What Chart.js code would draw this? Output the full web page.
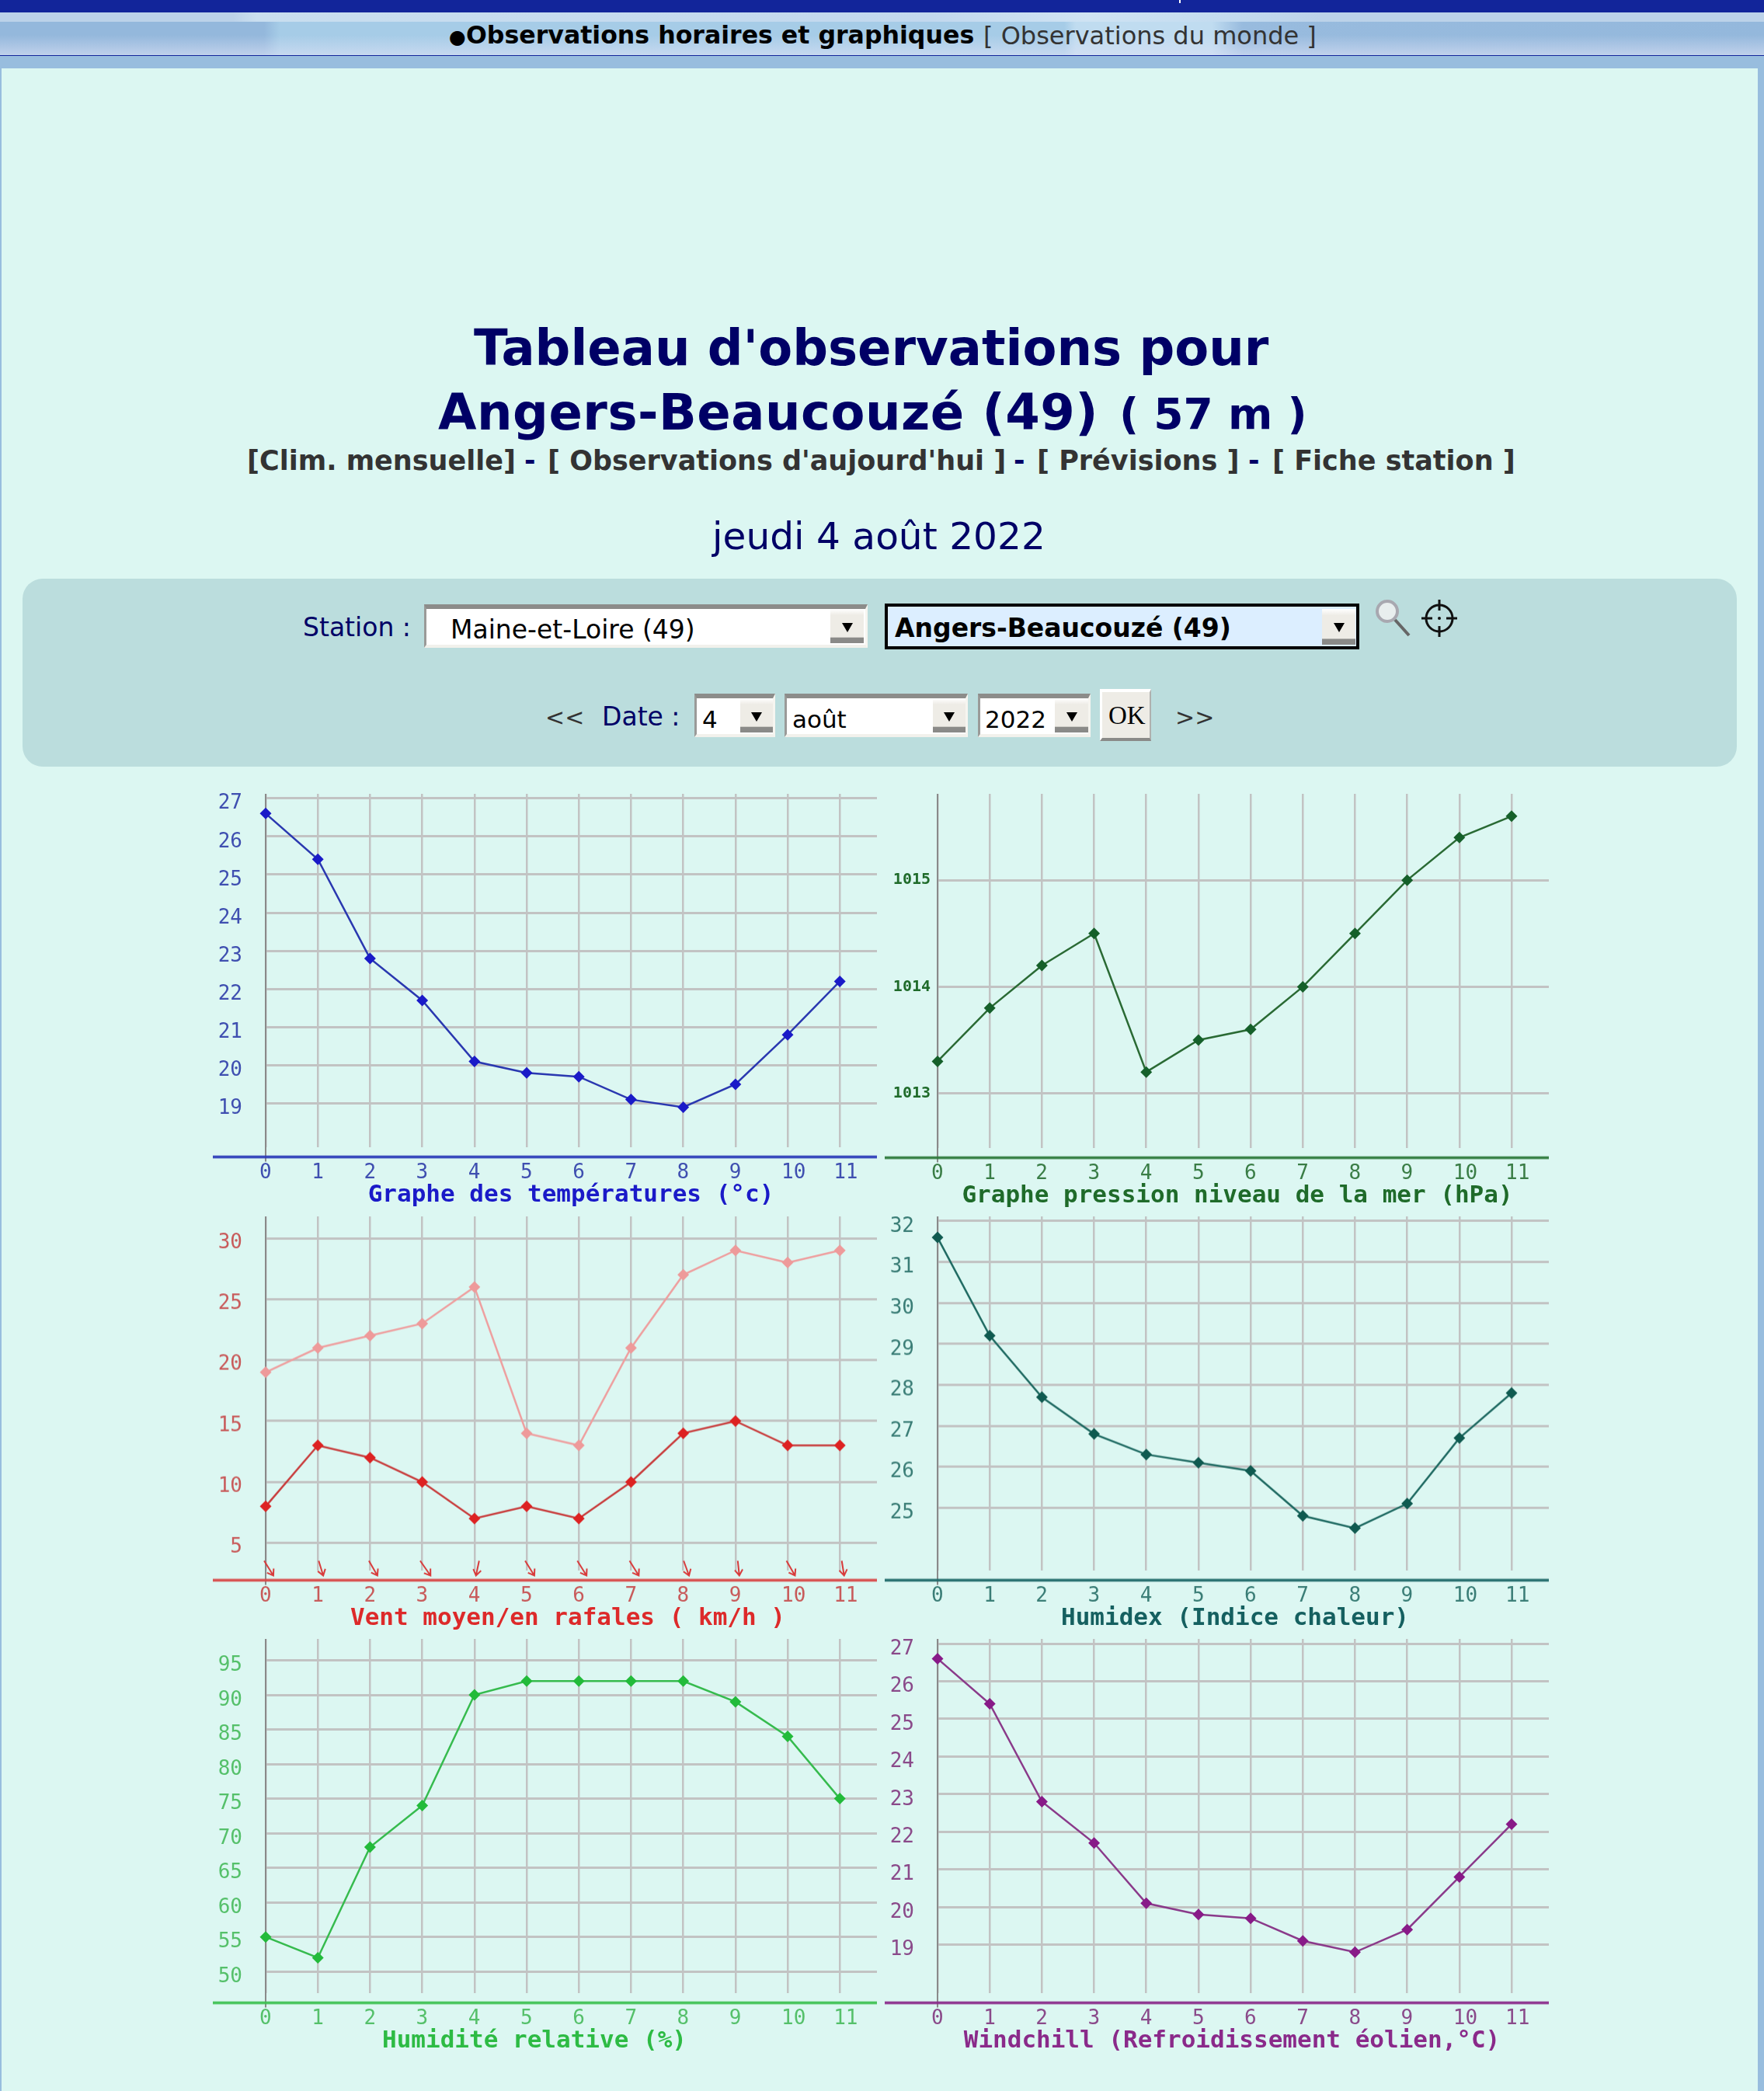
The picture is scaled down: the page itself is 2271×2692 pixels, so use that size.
<!DOCTYPE html>
<html lang="fr"><head><meta charset="utf-8"><title>Tableau d'observations</title>
<script src="https://cdn.jsdelivr.net/npm/chart.js@4"></script>
<style>
html,body{margin:0;padding:0;width:2271px;height:2692px;overflow:hidden;background:#dcf7f2;font-family:"DejaVu Sans",sans-serif}
#page{position:relative;width:2271px;height:2692px;overflow:hidden}
.b{position:absolute}
.t{position:absolute;white-space:nowrap;line-height:1;z-index:3}
.sel{position:absolute;box-sizing:border-box;background:#fff;border-top:6px solid #8c8c8a;border-left:3px solid #9a9a98;border-bottom:4px solid #f2f1ec;border-right:3px solid #f6f5f0}
.btn{position:absolute;background:linear-gradient(#fff 0,#eeece6 18%,#eeece6 82%,#8a8a88 85%);}
.btn:after{content:"";position:absolute;left:50%;top:40%;margin-left:-7px;border:7px solid transparent;border-top:12px solid #000;border-bottom:0}
canvas{position:absolute;display:block}
</style></head><body><div id="page">
<div class="b" style="left:0;top:0;width:2271px;height:16px;background:#12259a"></div>
<div class="b" style="left:1518px;top:0;width:2px;height:4px;background:#fff"></div>
<div class="b" style="left:0;top:16px;width:2271px;height:12px;background:linear-gradient(90deg,#bcd2e9 0,#bcd2e9 300px,#c9deef 330px,#c2d8ee 1200px,#cfe3f3 1400px,#c4dcf0 1560px,#bcd2e9 1700px)"></div>
<div class="b" style="left:0;top:28px;width:2271px;height:43px;background:linear-gradient(180deg,rgba(255,255,255,0) 40%,rgba(220,225,245,.6) 100%),linear-gradient(90deg,#94b8dc 0,#94b8dc 340px,#a6cce7 360px,#a6cce7 1370px,#c0dcf0 1385px,#c0dcf0 1560px,#98bbde 1600px,#94b8dc 2271px)"></div>
<div class="b" style="left:0;top:71px;width:2271px;height:1px;background:#12259a"></div>
<div class="b" style="left:0;top:72px;width:2271px;height:16px;background:#98bdde"></div>
<div class="b" style="left:0;top:88px;width:2px;height:2604px;background:#98bdde"></div>
<div class="b" style="left:2263px;top:88px;width:8px;height:2604px;background:#98bdde"></div>
<div class="b" style="left:29px;top:745px;width:2207px;height:242px;background:#bbdddd;border-radius:26px"></div>
<div id="texts"></div>
<div class="sel" style="left:546px;top:778px;width:571px;height:56px"></div>
<div class="btn" style="left:1069px;top:784px;width:43px;height:44px"></div>
<div class="b" style="left:1139px;top:777px;width:611px;height:59px;box-sizing:border-box;background:#dceeff;border:4px solid #000"></div>
<div class="btn" style="left:1702px;top:784px;width:43px;height:46px"></div>
<div class="sel" style="left:894px;top:893px;width:104px;height:56px"></div>
<div class="btn" style="left:953px;top:899px;width:42px;height:44px"></div>
<div class="sel" style="left:1010px;top:893px;width:236px;height:56px"></div>
<div class="btn" style="left:1201px;top:899px;width:42px;height:44px"></div>
<div class="sel" style="left:1259px;top:893px;width:145px;height:56px"></div>
<div class="btn" style="left:1358px;top:899px;width:43px;height:44px"></div>
<div class="b" style="left:1416px;top:887px;width:66px;height:67px;box-sizing:border-box;background:#eeece6;border-top:4px solid #fff;border-left:3px solid #fff;border-bottom:4px solid #8a8a88;border-right:2px solid #b0b0ae"></div>
<svg class="b" style="left:1770px;top:770px" width="46" height="52" viewBox="0 0 46 52"><circle cx="16" cy="17" r="13" fill="#e8eeee" stroke="#a8a8b0" stroke-width="4"/><path d="M26 28L44 48" stroke="#666" stroke-width="4"/></svg>
<svg class="b" style="left:1829px;top:771px" width="48" height="50" viewBox="0 0 48 50"><circle cx="24" cy="25" r="17" fill="none" stroke="#111" stroke-width="3"/><path d="M24 1V15M24 35V49M1 25H15M33 25H47" stroke="#111" stroke-width="3"/><circle cx="24" cy="25" r="2" fill="#111"/></svg>
</div>
<script>
// ---- data ----
const hours = [0,1,2,3,4,5,6,7,8,9,10,11];
const temperature = [26.6,25.4,22.8,21.7,20.1,19.8,19.7,19.1,18.9,19.5,20.8,22.2];
const pressure = [1013.3,1013.8,1014.2,1014.5,1013.2,1013.5,1013.6,1014,1014.5,1015,1015.4,1015.6];
const windGust = [19,21,22,23,26,14,13,21,27,29,28,29];
const windMean = [8,13,12,10,7,8,7,10,14,15,13,13];
const windDirTilt = [32,17,30,35,-12,32,32,32,20,6,30,9];
const humidex = [31.6,29.2,27.7,26.8,26.3,26.1,25.9,24.8,24.5,25.1,26.7,27.8];
const humidity = [55,52,68,74,90,92,92,92,92,89,84,75];
const windchill = [26.6,25.4,22.8,21.7,20.1,19.8,19.7,19.1,18.8,19.4,20.8,22.2];
const tempTicks = [19,20,21,22,23,24,25,26,27];
const pressureTicks = [1013,1014,1015];
const windTicks = [5,10,15,20,25,30];
const humidexTicks = [25,26,27,28,29,30,31,32];
const humidityTicks = [50,55,60,65,70,75,80,85,90,95];
const chillTicks = [19,20,21,22,23,24,25,26,27];

// ---- header texts ----
const host = document.getElementById('texts');
function txt(x,base,s,fs,color,extra){
  const e=document.createElement('div');e.className='t';e.textContent=s;
  e.style.cssText=`left:${x}px;top:${base-0.846*fs}px;font-size:${fs}px;color:${color};${extra||''}`;
  host.appendChild(e);return e;
}
const navy='#000066';
txt(578,56,'●',25,'#000');
txt(600,57,'Observations horaires et graphiques',31.6,'#000','font-weight:bold');
txt(1266,57,'[ Observations du monde ]',32,'#333');
txt(610,470,"Tableau d'observations pour",64,navy,'font-weight:bold');
txt(564,553,'Angers-Beaucouzé (49)',64,navy,'font-weight:bold;letter-spacing:.5px');
txt(1441,553,'( 57 m )',55,navy,'font-weight:bold');
txt(318,606,"[Clim. mensuelle]",35,'#333','font-weight:bold');
txt(675,606,'-',35,navy,'font-weight:bold');
txt(705,606,"[ Observations d'aujourd'hui ]",35,'#333','font-weight:bold');
txt(1305,606,'-',35,navy,'font-weight:bold');
txt(1335,606,'[ Prévisions ]',35,'#333','font-weight:bold');
txt(1607,606,'-',35,navy,'font-weight:bold');
txt(1638,606,'[ Fiche station ]',35,'#333','font-weight:bold');
txt(917,707,'jeudi 4 août 2022',48.6,navy);
txt(390,819,'Station :',33,navy);
txt(580,822,'Maine-et-Loire (49)',33,'#000');
txt(1152,820,'Angers-Beaucouzé (49)',33,'#000','font-weight:bold');
txt(702,934,'<<',30,'#333');
txt(775,934,'Date :',33,navy);
txt(904,937,'4',31,'#000');
txt(1020,937,'août',31,'#000');
txt(1268,937,'2022',31,'#000');
txt(1427,933,'OK',33,'#000','font-family:\'Liberation Serif\',serif');
txt(1513,934,'>>',30,'#333');

// ---- charts ----
const mono='"DejaVu Sans Mono",monospace';
const cols={l:{cx:270,x0:342,right:1129},r:{cx:1135,x0:1207,right:1994}};
const panels=[
 {col:'l',top:1022,bottom:1477,yMin:17.85,yMax:27.116,ticks:tempTicks,title:'Graphe des températures (°c)',titleX:735,base:'#2a38b8',tick:'#3f4fb0',titleC:'#1a1ac8',
  series:[{label:'Température',data:temperature,line:'#2a38b0',mark:'#1a1ac8'}],yOff:7},
 {col:'r',top:1022,bottom:1478,yMin:1012.487,yMax:1015.81,ticks:pressureTicks,title:'Graphe pression niveau de la mer (hPa)',titleX:1593,base:'#2f7a3c',tick:'#3a7d46',titleC:'#1f6b2a',yFont:{family:mono,size:20,weight:'bold',lineHeight:1},yColor:'#1f6b2a',yPad:9,
  series:[{label:'Pression',data:pressure,line:'#2a6a34',mark:'#15602a'}],yOff:0},
 {col:'l',top:1566,bottom:2021.5,yMin:2.74,yMax:31.79,ticks:windTicks,title:'Vent moyen/en rafales ( km/h )',titleX:731,base:'#d84848',tick:'#c85a5a',titleC:'#dd2a2a',wind:true,
  series:[{label:'Rafales',data:windGust,line:'#ee9f9f',mark:'#ee9a9a'},{label:'Vent moyen',data:windMean,line:'#c83c3c',mark:'#dd2222'}],yOff:6},
 {col:'r',top:1566,bottom:2021.5,yMin:23.466,yMax:32.114,ticks:humidexTicks,title:'Humidex (Indice chaleur)',titleX:1590,base:'#1f6a6a',tick:'#3a7d76',titleC:'#156060',
  series:[{label:'Humidex',data:humidex,line:'#1f6a62',mark:'#0f5a50'}],yOff:7},
 {col:'l',top:2110,bottom:2566,yMin:46.88,yMax:98.09,ticks:humidityTicks,title:'Humidité relative (%)',titleX:688,base:'#3cc050',tick:'#55c06a',titleC:'#2dbb44',
  series:[{label:'Humidité',data:humidity,line:'#36bb4e',mark:'#22bb3a'}],yOff:7},
 {col:'r',top:2110,bottom:2566,yMin:17.712,yMax:27.124,ticks:chillTicks,title:'Windchill (Refroidissement éolien,°C)',titleX:1586,base:'#8a2a8a',tick:'#8a4a8a',titleC:'#8a2a8a',
  series:[{label:'Windchill',data:windchill,line:'#8a3a8a',mark:'#881a88'}],yOff:7}
];
const framePlugin={id:'frame',
 beforeDatasetsDraw(c,a,o){
  const {ctx,chartArea:ar,scales:{x}}=c,base=ar.bottom+12.5,x0=x.getPixelForValue(0);
  ctx.save();
  ctx.strokeStyle='#8a8a8a';ctx.lineWidth=2;ctx.beginPath();ctx.moveTo(x0,ar.top);ctx.lineTo(x0,base+6);ctx.stroke();
  ctx.strokeStyle=o.base;ctx.globalAlpha=.35;ctx.lineWidth=5;ctx.beginPath();ctx.moveTo(x0-68,base);ctx.lineTo(ar.right,base);ctx.stroke();
  ctx.globalAlpha=1;ctx.lineWidth=2.5;ctx.beginPath();ctx.moveTo(x0-68,base);ctx.lineTo(ar.right,base);ctx.stroke();
  if(o.wind){
   ctx.strokeStyle='#d83a3a';ctx.lineWidth=2;
   windDirTilt.forEach((tilt,i)=>{
    const r=tilt*Math.PI/180,cx=x.getPixelForValue(hours[i])+4,cy=ar.bottom-3,h=9.5,dx=Math.tan(r)*h;
    const tx=cx+dx,ty=cy+h,bx=cx-dx,by=cy-h,ang=Math.PI/2-r;
    ctx.beginPath();ctx.moveTo(bx,by);ctx.lineTo(tx,ty);
    ctx.moveTo(tx-9*Math.cos(ang-.6),ty-9*Math.sin(ang-.6));ctx.lineTo(tx,ty);
    ctx.lineTo(tx-9*Math.cos(ang+.6),ty-9*Math.sin(ang+.6));ctx.stroke();
   });
  }
  ctx.restore();
 },
 afterDraw(c,a,o){
  const {ctx,chartArea:ar}=c;ctx.save();
  ctx.font=`bold 31px ${mono}`;ctx.fillStyle=o.titleC;ctx.textAlign='center';ctx.textBaseline='middle';
  ctx.fillText(o.title,o.titleX-c.canvas.offsetLeft,ar.bottom+62);ctx.restore();
 }
};
panels.forEach(p=>{
 const col=cols[p.col],pad=10,h=p.bottom-p.top+pad+80;
 const cv=document.createElement('canvas');
 cv.width=col.right-col.cx;cv.height=h;
 cv.style.left=col.cx+'px';cv.style.top=(p.top-pad)+'px';cv.style.width=cv.width+'px';cv.style.height=h+'px';
 document.getElementById('page').appendChild(cv);
 const step=(col.x0===342?67.2:67.18);
 new Chart(cv,{type:'line',plugins:[framePlugin],
  data:{datasets:p.series.map(s=>({label:s.label,data:s.data.map((v,i)=>({x:hours[i],y:v})),borderColor:s.line,backgroundColor:s.mark,borderWidth:2.5,tension:0,
    pointStyle:'rectRot',pointRadius:7.5,pointBorderWidth:0,pointBackgroundColor:s.mark,clip:false}))},
  options:{responsive:false,animation:false,
   layout:{autoPadding:false,padding:{top:pad,left:0,right:0,bottom:0}},
   plugins:{legend:{display:false},tooltip:{enabled:false},
     frame:{base:p.base,title:p.title,titleX:p.titleX,titleC:p.titleC,wind:!!p.wind}},
   scales:{
    x:{type:'linear',min:0,max:(col.right-col.x0)/step,
     afterBuildTicks(s){s.ticks=hours.map(v=>({value:v}));},
     afterFit(s){s.height=80;s.paddingLeft=s.paddingRight=0;},
     grid:{color:'#c2c3c3',lineWidth:2.5,drawTicks:false},border:{display:false},
     ticks:{color:p.tick,font:{family:mono,size:26,lineHeight:1},padding:20,align:'start',labelOffset:-8,autoSkip:false,maxRotation:0,callback:v=>String(v)}},
    y:{type:'linear',min:p.yMin,max:p.yMax,
     afterBuildTicks(s){s.ticks=p.ticks.map(v=>({value:v}));},
     afterFit(s){s.width=col.x0-col.cx;s.paddingTop=s.paddingBottom=0;},
     grid:{color:'#c2c3c3',lineWidth:3,drawTicks:false},border:{display:false},
     ticks:{color:p.yColor||p.tick,font:p.yFont||{family:mono,size:26,lineHeight:1},padding:p.yPad||30,labelOffset:p.yOff,autoSkip:false,callback:v=>String(v)}}
   }}});
});
</script></body></html>
